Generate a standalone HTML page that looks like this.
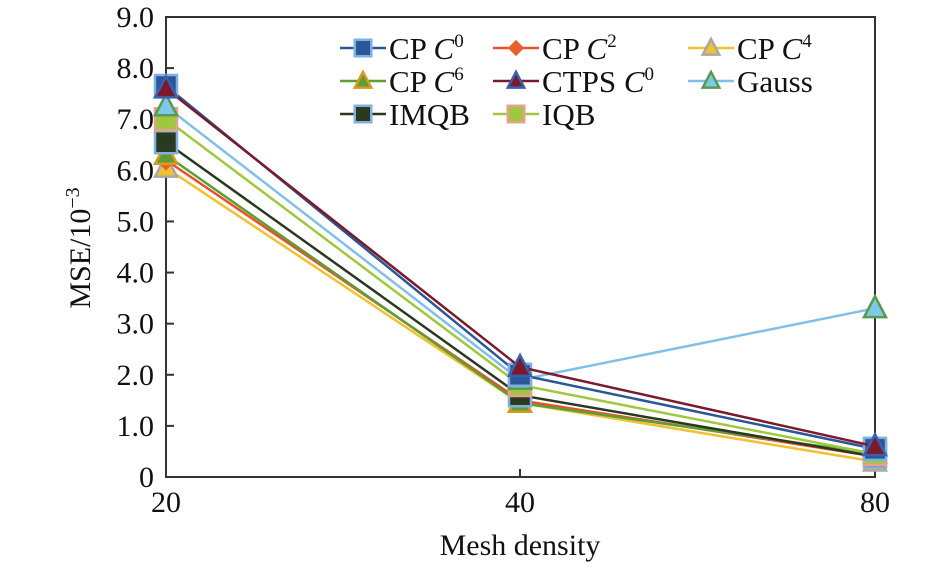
<!DOCTYPE html>
<html><head><meta charset="utf-8"><style>
body{margin:0;background:#fff}
svg text{font-family:"Liberation Serif",serif;fill:#111}
</style></head><body>
<svg id="c" width="945" height="566" viewBox="0 0 945 566"></svg>
<script>
const categories=["20","40","80"];
const yTicks=[0,1,2,3,4,5,6,7,8,9];
const seriesNames=["CP C0","CP C2","CP C4","CP C6","CTPS C0","Gauss","IMQB","IQB"];
const sCP0=[7.65,2.0,0.55];
const sCP2=[6.2,1.5,0.4];
const sCP4=[6.05,1.45,0.3];
const sCP6=[6.3,1.45,0.45];
const sCTPS=[7.6,2.15,0.6];
const sGauss=[7.25,1.9,3.3];
const sIMQB=[6.55,1.6,0.4];
const sIQB=[7.0,1.8,0.45];
const NS="http://www.w3.org/2000/svg";
const svg=document.getElementById('c');
const X0=166,X1=875,Y0=477,Y1=17;
const xPos=[X0,520,X1];
function xs(i){return xPos[i];}
function ys(v){return Y0-(v/9)*(Y0-Y1);}
function el(t,a,p){const e=document.createElementNS(NS,t);for(const k in a)e.setAttribute(k,a[k]);(p||svg).appendChild(e);return e;}
const fr=el('rect',{x:X0,y:Y1,width:X1-X0,height:Y0-Y1,fill:'none',stroke:'#333','stroke-width':2});


yTicks.forEach(v=>{
  const t=el('line',{x1:X0,x2:X0+8,y1:ys(v),y2:ys(v),stroke:'#333','stroke-width':2});
  
  
  const l=el('text',{x:X0-12,y:ys(v)+10,'text-anchor':'end','font-size':30});
  l.textContent=v===0?'0':v.toFixed(1);
  
  
});
categories.forEach((c,i)=>{
  const t=el('line',{x1:xs(i),x2:xs(i),y1:Y0,y2:Y0-8,stroke:'#333','stroke-width':2});
  
  
  const l=el('text',{x:xs(i),y:Y0+35,'text-anchor':'middle','font-size':30});
  l.textContent=c;
  
  
});
const xt=el('text',{x:520,y:555,'text-anchor':'middle','font-size':30});
xt.textContent='Mesh density';


const yt=el('text',{x:0,y:0,'text-anchor':'middle','font-size':30,transform:'translate(90,248) rotate(-90)'});
yt.innerHTML='MSE/10<tspan dy="-11" font-size="20">−3</tspan>';



const styles=[
 {d:sCP0,line:'#2b5796',m:'sq',fill:'#2b5796',edge:'#7fb0e0',sz:11},
 {d:sCP2,line:'#e8502a',m:'dia',fill:'#e8602a',edge:'#e8602a',sz:9},
 {d:sCP4,line:'#f2c030',m:'tri',fill:'#f2c030',edge:'#a8a8a8',sz:11},
 {d:sCP6,line:'#5f9e35',m:'tri',fill:'#5f9e35',edge:'#d89a20',sz:11},
 {d:sCTPS,line:'#7a1a2a',m:'tri',fill:'#7a1a2a',edge:'#3a60b0',sz:11},
 {d:sGauss,line:'#80c0e8',m:'tri',fill:'#80c8e8',edge:'#5a9a50',sz:11},
 {d:sIMQB,line:'#2a3820',m:'sq',fill:'#2a3a20',edge:'#80b0e0',sz:11},
 {d:sIQB,line:'#a0c83e',m:'sq',fill:'#a0c83e',edge:'#e8a090',sz:11}
];
function marker(g,x,y,s,k){
  const r=s.sz*(k||1);
  if(s.m==='sq')return el('rect',{x:x-r,y:y-r,width:2*r,height:2*r,fill:s.fill,stroke:s.edge,'stroke-width':2.5},g);
  if(s.m==='dia')return el('polygon',{points:`${x},${y-r} ${x+r},${y} ${x},${y+r} ${x-r},${y}`,fill:s.fill,stroke:s.edge,'stroke-width':2},g);
  return el('polygon',{points:`${x},${y-r*1.1} ${x+r},${y+r*0.8} ${x-r},${y+r*0.8}`,fill:s.fill,stroke:s.edge,'stroke-width':2.5},g);
}
const order=[2,1,3,6,7,5,0,4];
order.forEach(si=>{
  const s=styles[si];
  const g=el('g',{});
  
  
  const pl=el('polyline',{points:s.d.map((v,i)=>xs(i)+','+ys(v)).join(' '),fill:'none',stroke:s.line,'stroke-width':2.5},g);
  
  
  s.d.forEach((v,i)=>{
    const m=marker(g,xs(i),ys(v),s);
    
    
  });
});
const lg=el('g',{});


const labels=[['CP ','C','0'],['CP ','C','2'],['CP ','C','4'],['CP ','C','6'],['CTPS ','C','0'],['Gauss'],['IMQB'],['IQB']];
const colX=[340,493,688],rowY=[48,81,114];
labels.forEach((lb,i)=>{
  const s=styles[i];const cx=colX[i%3],cy=rowY[Math.floor(i/3)];
  const g=el('g',{},lg);
  
  
  el('line',{x1:cx,x2:cx+46,y1:cy,y2:cy,stroke:s.line,'stroke-width':2.5},g);
  marker(g,cx+23,cy,s,0.75);
  const t=el('text',{x:cx+49,y:cy+11,'font-size':31},g);
  if(lb.length>1)t.innerHTML=lb[0]+'<tspan font-style="italic">'+lb[1]+'</tspan><tspan dy="-12" font-size="19">'+lb[2]+'</tspan>';
  else t.textContent=lb[0];
});
</script>
</body></html>
